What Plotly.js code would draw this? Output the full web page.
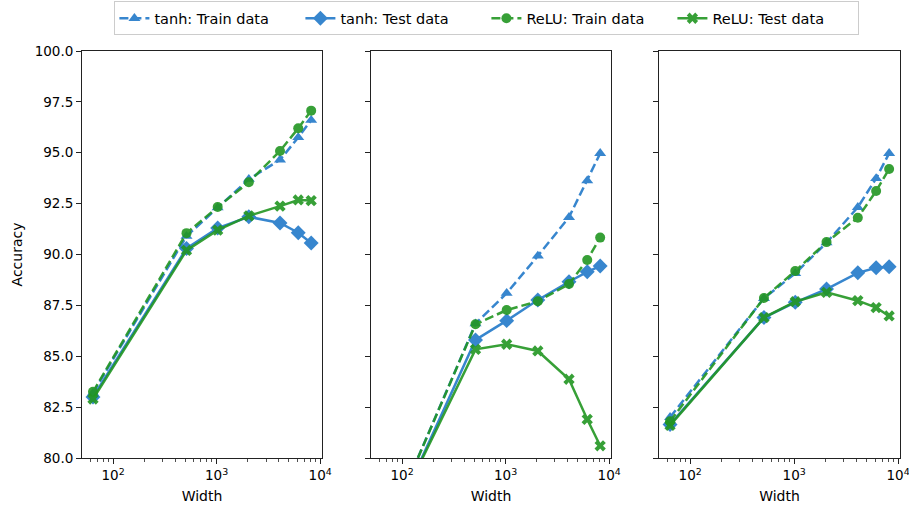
<!DOCTYPE html>
<html>
<head>
<meta charset="utf-8">
<script src="https://cdn.plot.ly/plotly-3.0.1.min.js"></script>
<style>html,body{margin:0;padding:0;background:#fff;}#chart{width:909px;height:506px;}</style>
</head>
<body>
<div id="chart"></div>
<script>
// Network widths (x values, log scale)
const widths = [64, 512, 1024, 2048, 4096, 6144, 8192];

// Panel 1
const tanhTrain1 = [83.2, 90.9, 92.3, 93.7, 94.65, 95.75, 96.6];
const tanhTest1  = [83.0, 90.3, 91.3, 91.85, 91.55, 91.07, 90.56];
const reluTrain1 = [83.25, 91.05, 92.33, 93.55, 95.09, 96.2, 97.07];
const reluTest1  = [82.9, 90.2, 91.2, 91.9, 92.38, 92.68, 92.65];

// Panel 2
const tanhTrain2 = [75.9, 86.6, 88.1, 89.93, 91.83, 93.63, 94.97];
const tanhTest2  = [75.7, 85.8, 86.75, 87.76, 88.66, 89.15, 89.43];
const reluTrain2 = [75.9, 86.57, 87.27, 87.7, 88.55, 89.73, 90.83];
const reluTest2  = [75.9, 85.34, 85.59, 85.26, 83.87, 81.9, 80.6];

// Panel 3
const tanhTrain3 = [82.0, 87.85, 89.07, 90.58, 92.32, 93.74, 94.97];
const tanhTest3  = [81.65, 86.9, 87.65, 88.3, 89.1, 89.35, 89.4];
const reluTrain3 = [81.8, 87.86, 89.19, 90.61, 91.81, 93.12, 94.2];
const reluTest3  = [81.6, 86.9, 87.68, 88.14, 87.73, 87.39, 86.98];

const seriesNames = ["tanh: Train data", "tanh: Test data", "ReLU: Train data", "ReLU: Test data"];
const xTickVals = [100, 1000, 10000];
const xTickText = ["10<sup>2</sup>", "10<sup>3</sup>", "10<sup>4</sup>"];
const xMinorVals = [50,60,70,80,90,200,300,400,500,600,700,800,900,2000,3000,4000,5000,6000,7000,8000,9000];
const yTickVals = [80, 82.5, 85, 87.5, 90, 92.5, 95, 97.5, 100];

const BLUE = "#2279c9";
const GREEN = "#229622";
const styles = [
  {color: BLUE, dash: "9px,4px", symbol: "triangle-up", size: 10.5},
  {color: BLUE, dash: "solid", symbol: "diamond", size: 11.5},
  {color: GREEN, dash: "9px,4px", symbol: "circle", size: 10},
  {color: GREEN, dash: "solid", symbol: "x", size: 10}
];

const panels = [
  [tanhTrain1, tanhTest1, reluTrain1, reluTest1],
  [tanhTrain2, tanhTest2, reluTrain2, reluTest2],
  [tanhTrain3, tanhTest3, reluTrain3, reluTest3]
];

const traces = [];
panels.forEach((p, pi) => {
  p.forEach((ys, si) => {
    const s = styles[si];
    traces.push({
      type: "scatter", mode: "lines+markers",
      x: widths, y: ys,
      xaxis: pi === 0 ? "x" : "x" + (pi + 1),
      yaxis: pi === 0 ? "y" : "y" + (pi + 1),
      name: seriesNames[si],
      legendgroup: seriesNames[si],
      showlegend: pi === 0,
      opacity: 0.9,
      line: {color: s.color, width: 2.5, dash: s.dash},
      marker: {color: s.color, symbol: s.symbol, size: s.size, line: {width: 0}}
    });
  });
});

const FONT = "DejaVu Sans, sans-serif";
function xax(domain, anchor) {
  return {
    type: "log", domain: domain, anchor: anchor,
    range: [1.70, 4.018],
    tickvals: xTickVals, ticktext: xTickText,
    ticklabeloverflow: "allow",
    ticks: "outside", ticklen: 5, tickwidth: 1, tickcolor: "#222",
    minor: {tickvals: xMinorVals, ticks: "outside", ticklen: 2.5, tickwidth: 0.8, tickcolor: "#222", showgrid: false},
    showline: true, linecolor: "#222", linewidth: 1, mirror: true,
    showgrid: false, zeroline: false,
    tickfont: {family: FONT, size: 13.5, color: "#000"},
    title: {text: "Width", font: {family: FONT, size: 14, color: "#000"}, standoff: 8}
  };
}
function yax(anchor, labels) {
  return {
    range: [80, 100], anchor: anchor,
    tickvals: yTickVals, tickformat: ".1f",
    showticklabels: labels,
    ticks: "outside", ticklen: 5, tickwidth: 1, tickcolor: "#222",
    showline: true, linecolor: "#222", linewidth: 1, mirror: true,
    showgrid: false, zeroline: false,
    tickfont: {family: FONT, size: 13.5, color: "#000"},
    title: labels ? {text: "Accuracy", font: {family: FONT, size: 14, color: "#000"}, standoff: 8} : {text: ""}
  };
}

const layout = {
  width: 909, height: 506,
  margin: {l: 82, r: 9, t: 51, b: 48, autoexpand: false},
  paper_bgcolor: "#fff", plot_bgcolor: "#fff",
  font: {family: FONT, size: 13, color: "#000"},
  showlegend: true,
  legend: {
    orientation: "h", x: 0.495, xanchor: "center", y: 1.122, yanchor: "top",
    entrywidth: 141, entrywidthmode: "pixels",
    bordercolor: "#cccccc", borderwidth: 1, bgcolor: "rgba(255,255,255,0.8)",
    font: {family: FONT, size: 14.5, color: "#000"}
  },
  xaxis: xax([0, 0.2934], "y"),
  xaxis2: xax([0.3533, 0.6467], "y2"),
  xaxis3: xax([0.7054, 1], "y3"),
  yaxis: yax("x", true),
  yaxis2: yax("x2", false),
  yaxis3: yax("x3", false)
};

Plotly.newPlot("chart", traces, layout, {staticPlot: true, displayModeBar: false});
</script>
</body>
</html>
